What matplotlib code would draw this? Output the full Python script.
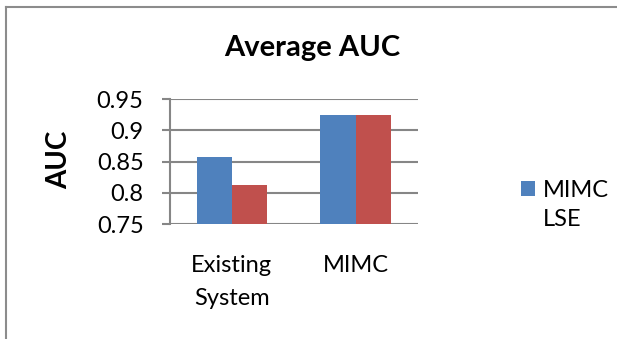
import matplotlib.pyplot as plt
import numpy as np
from matplotlib.lines import Line2D
from matplotlib.patches import Patch

# AUC per approach, one series per method
categories = ["Existing\nSystem", "MIMC"]
series_names = ["MIMC", "LSE"]
mimc_auc = [0.857, 0.925]
lse_auc = [0.813, 0.925]

y_ticks = [0.75, 0.8, 0.85, 0.9, 0.95]
y_tick_labels = ["0.75", "0.8", "0.85", "0.9", "0.95"]

blue = "#4F81BD"
red = "#C0504D"
grid_gray = "#868686"

plt.rcParams["font.family"] = ["Lato", "DejaVu Sans"]

fig = plt.figure(figsize=(6.17, 3.39), dpi=100)
ax = fig.add_axes([0.2755, 0.3392, 0.4014, 0.3687])

x = np.arange(len(categories))
width = 0.285
ax.bar(x - width / 2, mimc_auc, width, color=blue, zorder=3)
ax.bar(x + width / 2, lse_auc, width, color=red, zorder=3)

ax.set_xlim(-0.5, len(categories) - 0.5)
ax.set_ylim(0.75, 0.95)
ax.set_yticks(y_ticks)
ax.set_yticklabels(y_tick_labels)
ax.set_xticks(x)
ax.set_xticklabels(categories, linespacing=1.75)

ax.yaxis.grid(True, color=grid_gray, linewidth=1.5, zorder=0)
for side in ["top", "right", "bottom"]:
    ax.spines[side].set_visible(False)
ax.spines["left"].set_color(grid_gray)
ax.spines["left"].set_linewidth(1.5)
ax.spines["left"].set_zorder(4)

ax.tick_params(axis="y", length=6, width=1.5, color=grid_gray, labelsize=17, pad=13)
ax.tick_params(axis="x", length=0, labelsize=17, pad=22)

# the second legend entry is drawn without a swatch
handles = [Patch(facecolor=blue), Patch(facecolor="none", edgecolor="none")]
ax.legend(handles, series_names, loc="center left", bbox_to_anchor=(1.415 - 11 / 247.7, 0.15),
          frameon=False, fontsize=17, handlelength=0.6, handleheight=0.6,
          handletextpad=0.3, labelspacing=0.35, borderpad=0)

fig.text(0.5065, 1 - 56 / 339, "Average AUC", ha="center", va="baseline",
         fontsize=21, fontweight="bold")
fig.text(0.0956, 0.528, "AUC", ha="center", va="center", rotation=90,
         fontsize=20, fontweight="bold")

# chart border (left and top edges)
border_x = 5.5 / 617
border_y = 1 - 7 / 339
fig.add_artist(Line2D([border_x, border_x], [-0.05, border_y], transform=fig.transFigure,
                      color="#8c8c8c", linewidth=1.5, solid_capstyle="projecting"))
fig.add_artist(Line2D([border_x, 1.05], [border_y, border_y], transform=fig.transFigure,
                      color="#8c8c8c", linewidth=1.5, solid_capstyle="projecting"))

fig.savefig("out.png", dpi=100)
